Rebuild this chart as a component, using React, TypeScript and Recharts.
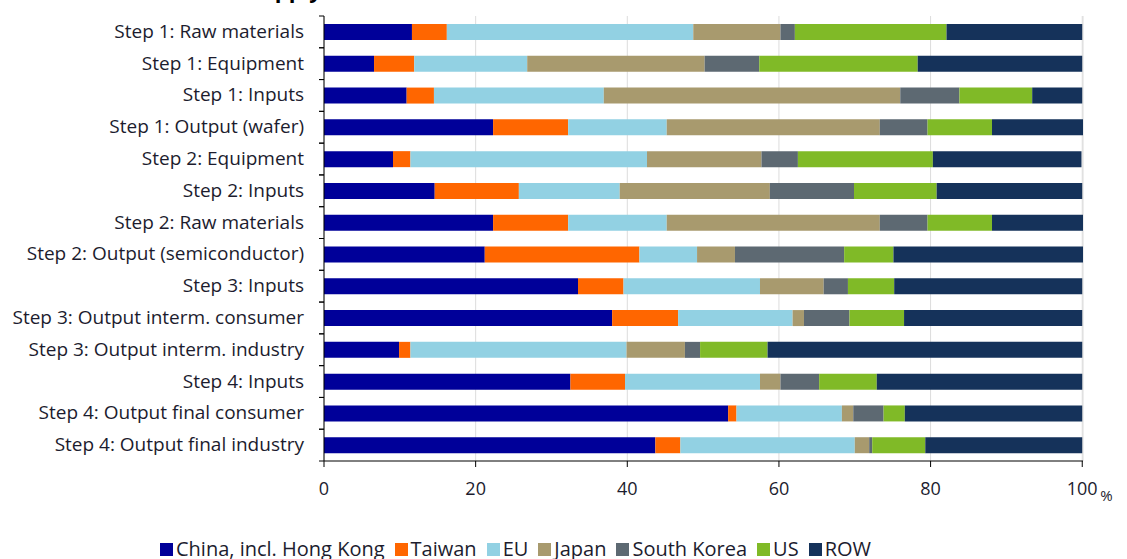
import { Bar, BarChart, CartesianGrid, XAxis, YAxis } from 'recharts'

const CATEGORIES = [
  'Step 1: Raw materials',
  'Step 1: Equipment',
  'Step 1: Inputs',
  'Step 1: Output (wafer)',
  'Step 2: Equipment',
  'Step 2: Inputs',
  'Step 2: Raw materials',
  'Step 2: Output (semiconductor)',
  'Step 3: Inputs',
  'Step 3: Output interm. consumer',
  'Step 3: Output interm. industry',
  'Step 4: Inputs',
  'Step 4: Output final consumer',
  'Step 4: Output final industry',
]

const CHINA = [11.6, 6.6, 10.9, 22.3, 9.1, 14.6, 22.3, 21.2, 33.5, 38.0, 9.9, 32.5, 53.3, 43.7]
const TAIWAN = [4.6, 5.3, 3.6, 9.9, 2.3, 11.1, 9.9, 20.4, 6.0, 8.7, 1.5, 7.2, 1.1, 3.3]
const EU = [32.5, 14.9, 22.4, 13.0, 31.2, 13.3, 13.0, 7.6, 18.0, 15.1, 28.5, 17.8, 13.9, 23.0]
const JAPAN = [11.5, 23.4, 39.1, 28.1, 15.1, 19.8, 28.1, 5.0, 8.4, 1.5, 7.7, 2.7, 1.5, 1.9]
const SOUTH_KOREA = [1.9, 7.2, 7.8, 6.3, 4.8, 11.1, 6.3, 14.4, 3.2, 6.0, 2.0, 5.1, 4.0, 0.4]
const US = [20.0, 20.9, 9.6, 8.5, 17.8, 10.9, 8.5, 6.5, 6.1, 7.2, 8.9, 7.6, 2.8, 7.0]
const ROW = [17.9, 21.7, 6.6, 12.0, 19.6, 19.2, 12.0, 25.0, 24.8, 23.5, 41.5, 27.1, 23.4, 20.7]

const X_TICKS = [0, 20, 40, 60, 80, 100]

const SERIES = [
  { key: 'china', label: 'China, incl. Hong Kong', color: '#000099', values: CHINA },
  { key: 'taiwan', label: 'Taiwan', color: '#FF6600', values: TAIWAN },
  { key: 'eu', label: 'EU', color: '#92D1E3', values: EU },
  { key: 'japan', label: 'Japan', color: '#A89A6E', values: JAPAN },
  { key: 'korea', label: 'South Korea', color: '#5D6972', values: SOUTH_KOREA },
  { key: 'us', label: 'US', color: '#80BA27', values: US },
  { key: 'row', label: 'ROW', color: '#15325A', values: ROW },
]

const data = CATEGORIES.map((name, i) => {
  const row: Record<string, string | number> = { name }
  SERIES.forEach((s) => (row[s.key] = s.values[i]))
  return row
})

const FONT = '"Open Sans", sans-serif'
const TEXT = '#1c1c2e'
const W = 1127
const H = 559
const TOP = 16
const AXIS_Y = 461
const BAND = (AXIS_Y - TOP) / CATEGORIES.length

function CategoryTick({ x, y, payload }: any) {
  const axisX = x + 8
  return (
    <g>
      <line x1={axisX - 5} x2={axisX} y1={y - BAND / 2} y2={y - BAND / 2} stroke="#000" />
      <line x1={axisX - 5} x2={axisX} y1={y + BAND / 2} y2={y + BAND / 2} stroke="#000" />
      <text x={axisX - 20} y={y} dy={6} textAnchor="end" fontSize={19} fontFamily={FONT} fill={TEXT}>
        {payload.value}
      </text>
    </g>
  )
}

function ValueTick({ x, y, payload }: any) {
  return (
    <g>
      <text x={x} y={y} dy={26} textAnchor="middle" fontSize={18} fontFamily={FONT} fill={TEXT}>
        {payload.value}
      </text>
      {payload.value === 100 && (
        <text x={x + 18} y={y} dy={32} fontSize={15} fontFamily={FONT} fill={TEXT}>
          %
        </text>
      )}
    </g>
  )
}

export default function App() {
  return (
    <div style={{ position: 'absolute', left: 0, top: 0, width: W, height: H, overflow: 'hidden', background: '#fff' }}>
      <div
        style={{
          position: 'absolute',
          left: 78,
          top: -26,
          fontFamily: FONT,
          fontWeight: 700,
          fontSize: 22,
          color: '#000',
          whiteSpace: 'nowrap',
        }}
      >
        Semiconductor supply chain
      </div>
      <BarChart
        width={W}
        height={H}
        data={data}
        layout="vertical"
        barSize={16}
        margin={{ top: TOP, right: 44, left: 0, bottom: 58 }}
      >
        <CartesianGrid horizontal={false} stroke="#dcdcdc" />
        <XAxis
          type="number"
          domain={[0, 100]}
          ticks={X_TICKS}
          height={40}
          axisLine={{ stroke: '#000' }}
          tickLine={{ stroke: '#000' }}
          tickSize={6}
          tick={<ValueTick />}
        />
        <YAxis
          type="category"
          dataKey="name"
          width={324}
          axisLine={{ stroke: '#000' }}
          tickLine={false}
          tick={<CategoryTick />}
          interval={0}
        />
        {SERIES.map((s) => (
          <Bar key={s.key} dataKey={s.key} stackId="a" fill={s.color} isAnimationActive={false} />
        ))}
      </BarChart>
      <div
        style={{
          position: 'absolute',
          left: 160,
          top: 537,
          display: 'flex',
          gap: 10,
          fontFamily: FONT,
          fontSize: 20,
          lineHeight: '24px',
          color: TEXT,
          whiteSpace: 'nowrap',
        }}
      >
        {SERIES.map((s) => (
          <div key={s.key} style={{ display: 'flex', alignItems: 'center', gap: 3 }}>
            <span style={{ width: 13, height: 13, background: s.color, display: 'inline-block' }} />
            <span>{s.label}</span>
          </div>
        ))}
      </div>
    </div>
  )
}
